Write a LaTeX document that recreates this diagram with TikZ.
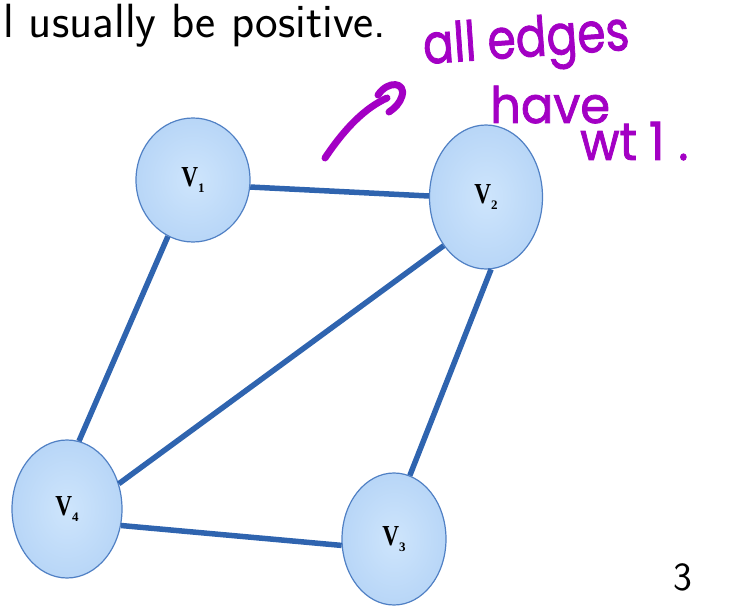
\documentclass[tikz,border=0pt]{standalone}
\usepackage{fontspec}
\usetikzlibrary{shapes.geometric}
\newfontfamily\vfont{Liberation Serif}
\newfontfamily\handfont{Poppins}[FakeBold=1.6]
\definecolor{edgeblue}{RGB}{47,100,175}
\definecolor{rimblue}{RGB}{80,128,196}
\definecolor{innerblue}{RGB}{206,229,252}
\definecolor{outerblue}{RGB}{184,214,247}
\definecolor{inkpurple}{RGB}{163,0,196}
\tikzset{
  vert/.style={ellipse, draw=rimblue, line width=1.2pt, inner color=innerblue, outer color=outerblue, inner sep=0pt, font=\vfont\bfseries\fontsize{29}{29}\selectfont},
  edge/.style={draw=edgeblue, line width=5.5pt},
  ink/.style={text=inkpurple, font=\handfont\fontsize{48}{48}\selectfont, inner sep=0pt},
  inkline/.style={draw=inkpurple, line width=7pt, line cap=round, line join=round}
}
\newcommand{\vsub}[1]{\raisebox{-0.4ex}{\fontsize{13}{13}\selectfont #1}}
\begin{document}
\begin{tikzpicture}[x=1pt,y=-1pt]
\useasboundingbox (0,0) rectangle (731,612);
% top text
\node[anchor=base west, inner sep=0pt, font=\sffamily\fontsize{48}{48}\selectfont] (top) at (3,38) {l usually be positive.};
\node[anchor=base, inner sep=0pt, font=\sffamily\fontsize{40}{40}\selectfont] (pg) at (683,590) {3};
% vertices
\node[vert, minimum width=114pt, minimum height=124pt] (v1) at (193,180) {\scalebox{0.8}[1]{V}\vsub{1}};
\node[vert, minimum width=113pt, minimum height=144pt] (v2) at (486,197) {\scalebox{0.8}[1]{V}\vsub{2}};
\node[vert, minimum width=110pt, minimum height=138pt] (v4) at (67,509) {\scalebox{0.8}[1]{V}\vsub{4}};
\node[vert, minimum width=104pt, minimum height=132pt] (v3) at (394,539) {\scalebox{0.8}[1]{V}\vsub{3}};
% edges
\draw[edge] (v1.353) -- (v2.179);
\draw[edge] (v1.246) -- (v4.80);
\draw[edge] (v2.229) -- (v4.26);
\draw[edge] (v2.274) -- (v3.76);
\draw[edge] (v4.343) -- (v3.187);
% handwritten note
\node[ink, anchor=base west, rotate=4] (n1) at (424,64) {\scalebox{0.95}[1.15]{all\hspace{12pt}edges}};
\node[ink, anchor=base west] (n2) at (490,123) {\scalebox{1}[1.05]{have}};
\node[ink, anchor=base west] (n3) at (580,160) {\scalebox{1}[1.1]{wt\hspace{12pt}1\hspace{14pt}.}};
\coordinate (as) at (325,158);
\coordinate (ae) at (387,98);
\draw[inkline] (as) .. controls (345,128) and (365,108) .. (ae);
\draw[inkline] (378,95) .. controls (388,80) and (406,82) .. (402,96) .. controls (400,103) and (395,108) .. (389,112);
\end{tikzpicture}
\end{document}
